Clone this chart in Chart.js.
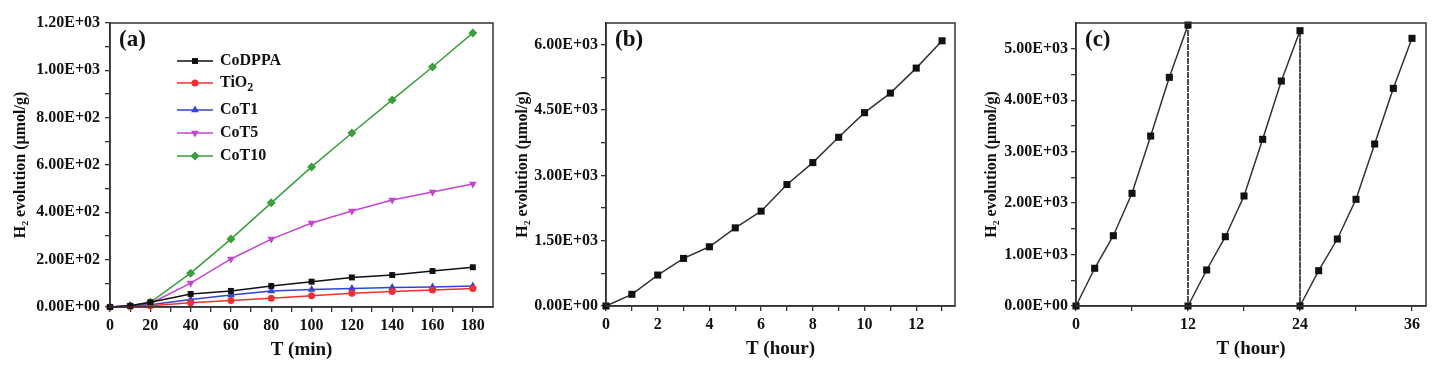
<!DOCTYPE html>
<html>
<head>
<meta charset="utf-8">
<script src="https://cdn.jsdelivr.net/npm/chart.js@4.4.1/dist/chart.umd.min.js"></script>
<style>
  html, body { margin: 0; padding: 0; background: #fff; }
  #wrap { position: relative; width: 1443px; height: 366px; }
  canvas { position: absolute; top: 0; }
</style>
</head>
<body>
<div id="wrap">
  <canvas id="chartA" width="505" height="366" style="left:0px"></canvas>
  <canvas id="chartB" width="460" height="366" style="left:505px"></canvas>
  <canvas id="chartC" width="478" height="366" style="left:965px"></canvas>
</div>
<script>
// ---- data: panel (a), H2 vs time (min)
const timeMin = [0, 10, 20, 40, 60, 80, 100, 120, 140, 160, 180];
const coDPPA  = [0, 5, 20, 55, 68, 89, 107, 125, 135, 152, 168];
const tiO2    = [0, 2, 5, 18, 27, 37, 48, 58, 65, 72, 78];
const coT1    = [0, 4, 10, 32, 51, 68, 74, 78, 82, 85, 89];
const coT5    = [0, 5, 15, 101, 203, 287, 355, 406, 452, 486, 520];
const coT10   = [0, 5, 20, 143, 287, 440, 592, 735, 875, 1014, 1158];

// ---- data: panel (b), long run (hour)
const timeHourB = [0, 1, 2, 3, 4, 5, 6, 7, 8, 9, 10, 11, 12, 13];
const h2B = [0, 268, 711, 1093, 1360, 1795, 2178, 2790, 3294, 3875, 4440, 4890, 5464, 6091];

// ---- data: panel (c), three cycles (hour)
const timeHourC = [0, 2, 4, 6, 8, 10, 12, 12, 14, 16, 18, 20, 22, 24, 24, 26, 28, 30, 32, 34, 36];
const h2C = [0, 733, 1366, 2190, 3303, 4444, 5460, 0, 700, 1347, 2138, 3239, 4372, 5350, 0, 686, 1302, 2073, 3148, 4230, 5202];

// ---- tick values (major get labels, minor are bare ticks)
const xMajorA = [0, 20, 40, 60, 80, 100, 120, 140, 160, 180];
const xMinorA = [10, 30, 50, 70, 90, 110, 130, 150, 170];
const yMajorA = [0, 200, 400, 600, 800, 1000, 1200];
const yMinorA = [100, 300, 500, 700, 900, 1100];
const xMajorB = [0, 2, 4, 6, 8, 10, 12];
const xMinorB = [1, 3, 5, 7, 9, 11, 13];
const yMajorB = [0, 1500, 3000, 4500, 6000];
const yMinorB = [750, 2250, 3750, 5250];
const xMajorC = [0, 12, 24, 36];
const xMinorC = [6, 18, 30];
const yMajorC = [0, 1000, 2000, 3000, 4000, 5000];
const yMinorC = [500, 1500, 2500, 3500, 4500];

const FONT = "'Liberation Serif', 'Times New Roman', serif";
const AXIS = '#333';

function sci(v) {
  const [m, e] = v.toExponential(2).split('e');
  return m + 'E' + e[0] + e.slice(1).padStart(2, '0');
}

function pts(xs, ys) {
  return xs.map((x, i) => ({ x: x, y: ys[i] }));
}

function axis(cfg) {
  const all = cfg.major.concat(cfg.minor).sort((a, b) => a - b);
  return {
    type: 'linear',
    min: cfg.min,
    max: cfg.max,
    afterBuildTicks: s => { s.ticks = all.map(v => ({ value: v })); },
    afterFit: s => { if (cfg.horizontal) s.height = cfg.size; else s.width = cfg.size; },
    grid: { drawOnChartArea: false, drawTicks: true, tickLength: 5, color: AXIS, lineWidth: 1.3 },
    border: { display: true, color: AXIS, width: 1.5 },
    ticks: {
      autoSkip: false,
      maxRotation: 0,
      padding: cfg.pad,
      color: '#111',
      font: { family: FONT, size: 16, weight: 'bold' },
      callback: v => cfg.major.includes(v) ? cfg.fmt(v) : ''
    },
    title: {
      display: true,
      text: cfg.title,
      color: '#111',
      font: { family: FONT, size: cfg.horizontal ? 19 : 16, weight: 'bold' },
      padding: cfg.titlePad
    }
  };
}

// frame around plot + panel letter
const framePlugin = {
  id: 'frame',
  afterDraw(chart, args, opts) {
    const { ctx, chartArea: a } = chart;
    ctx.save();
    ctx.strokeStyle = AXIS;
    ctx.lineWidth = 1.5;
    ctx.strokeRect(a.left, a.top, a.right - a.left, a.bottom - a.top);
    ctx.fillStyle = '#111';
    ctx.font = 'bold 23px ' + FONT;
    ctx.textBaseline = 'middle';
    ctx.fillText(opts.label, a.left + 9, a.top + 17);
    ctx.restore();
  }
};

// legend drawn inside the plot of panel (a); '_' marks a subscript
const insideLegend = {
  id: 'insideLegend',
  afterDraw(chart, args, opts) {
    if (!opts.rows) return;
    const { ctx, chartArea: a } = chart;
    ctx.save();
    chart.data.datasets.forEach((ds, i) => {
      const y = a.top + opts.rows[i];
      const x0 = a.left + 67, x1 = a.left + 103;
      ctx.strokeStyle = ds.borderColor;
      ctx.lineWidth = 1.5;
      ctx.beginPath(); ctx.moveTo(x0, y); ctx.lineTo(x1, y); ctx.stroke();
      ctx.fillStyle = ds.backgroundColor;
      Chart.helpers.drawPoint(ctx, {
        pointStyle: ds.pointStyle, radius: ds.pointRadius,
        rotation: ds.pointRotation || 0, borderWidth: 0
      }, (x0 + x1) / 2, y);
      const parts = ds.label.split('_');
      let tx = a.left + 110;
      ctx.fillStyle = '#111';
      ctx.textBaseline = 'middle';
      ctx.font = 'bold 16px ' + FONT;
      ctx.fillText(parts[0], tx, y);
      if (parts[1]) {
        tx += ctx.measureText(parts[0]).width;
        ctx.font = 'bold 12px ' + FONT;
        ctx.fillText(parts[1], tx, y + 5);
      }
    });
    ctx.restore();
  }
};

Chart.register(framePlugin, insideLegend);

function series(label, ys, color, style, radius, rot) {
  return {
    label: label, data: pts(timeMin, ys),
    borderColor: color, backgroundColor: color, borderWidth: 1.5,
    pointStyle: style, pointRadius: radius, pointRotation: rot || 0,
    pointBorderWidth: 0, tension: 0, clip: false
  };
}

new Chart(document.getElementById('chartA'), {
  type: 'line',
  data: {
    datasets: [
      series('CoDPPA', coDPPA, '#111111', 'rect', 4.2),
      series('TiO_2', tiO2, '#f03030', 'circle', 3.5),
      series('CoT1', coT1, '#3344d0', 'triangle', 4.5),
      series('CoT5', coT5, '#c445d2', 'triangle', 4.5, 180),
      series('CoT10', coT10, '#3a9e3a', 'rectRot', 4.5)
    ]
  },
  options: {
    responsive: false,
    animation: false,
    layout: { padding: { top: 23, right: 12, left: 0, bottom: 0 } },
    plugins: {
      legend: { display: false },
      tooltip: { enabled: false },
      frame: { label: '(a)' },
      insideLegend: { rows: [38, 60, 87, 110, 133] }
    },
    scales: {
      x: axis({ min: 0, max: 190, major: xMajorA, minor: xMinorA, fmt: v => String(v),
                horizontal: true, size: 59, pad: 4, title: 'T (min)', titlePad: { top: 0, bottom: 5 } }),
      y: axis({ min: 0, max: 1200, major: yMajorA, minor: yMinorA, fmt: sci,
                size: 110, pad: 5, title: 'H₂ evolution (µmol/g)', titlePad: { top: 11, bottom: 0 } })
    }
  }
});

new Chart(document.getElementById('chartB'), {
  type: 'line',
  data: {
    datasets: [{
      label: 'H2', data: pts(timeHourB, h2B),
      borderColor: '#333', backgroundColor: '#111', borderWidth: 1.5,
      pointStyle: 'rect', pointRadius: 5, pointBorderWidth: 0, tension: 0, clip: false
    }]
  },
  options: {
    responsive: false,
    animation: false,
    layout: { padding: { top: 23, right: 10, left: 0, bottom: 0 } },
    plugins: { legend: { display: false }, tooltip: { enabled: false }, frame: { label: '(b)' } },
    scales: {
      x: axis({ min: 0, max: 13.5, major: xMajorB, minor: xMinorB, fmt: v => String(v),
                horizontal: true, size: 60, pad: 4, title: 'T (hour)', titlePad: { top: 0, bottom: 6 } }),
      y: axis({ min: 0, max: 6500, major: yMajorB, minor: yMinorB, fmt: sci,
                size: 101, pad: 3, title: 'H₂ evolution (µmol/g)', titlePad: { top: 8, bottom: 0 } })
    }
  }
});

new Chart(document.getElementById('chartC'), {
  type: 'line',
  data: {
    datasets: [{
      label: 'H2', data: pts(timeHourC, h2C),
      borderColor: '#333', backgroundColor: '#111', borderWidth: 1.5,
      pointStyle: 'rect', pointRadius: 5, pointBorderWidth: 0, tension: 0, clip: false,
      segment: {
        borderDash: c => c.p0.parsed.x === c.p1.parsed.x ? [4, 3] : undefined,
        borderColor: c => c.p0.parsed.x === c.p1.parsed.x ? '#222' : undefined,
        borderWidth: c => c.p0.parsed.x === c.p1.parsed.x ? 1.6 : undefined
      }
    }]
  },
  options: {
    responsive: false,
    animation: false,
    layout: { padding: { top: 23, right: 17, left: 0, bottom: 0 } },
    plugins: { legend: { display: false }, tooltip: { enabled: false }, frame: { label: '(c)' } },
    scales: {
      x: axis({ min: 0, max: 37.5, major: xMajorC, minor: xMinorC, fmt: v => String(v),
                horizontal: true, size: 60, pad: 4, title: 'T (hour)', titlePad: { top: 0, bottom: 6 } }),
      y: axis({ min: 0, max: 5500, major: yMajorC, minor: yMinorC, fmt: sci,
                size: 111, pad: 3, title: 'H₂ evolution (µmol/g)', titlePad: { top: 17, bottom: 0 } })
    }
  }
});
</script>
</body>
</html>
